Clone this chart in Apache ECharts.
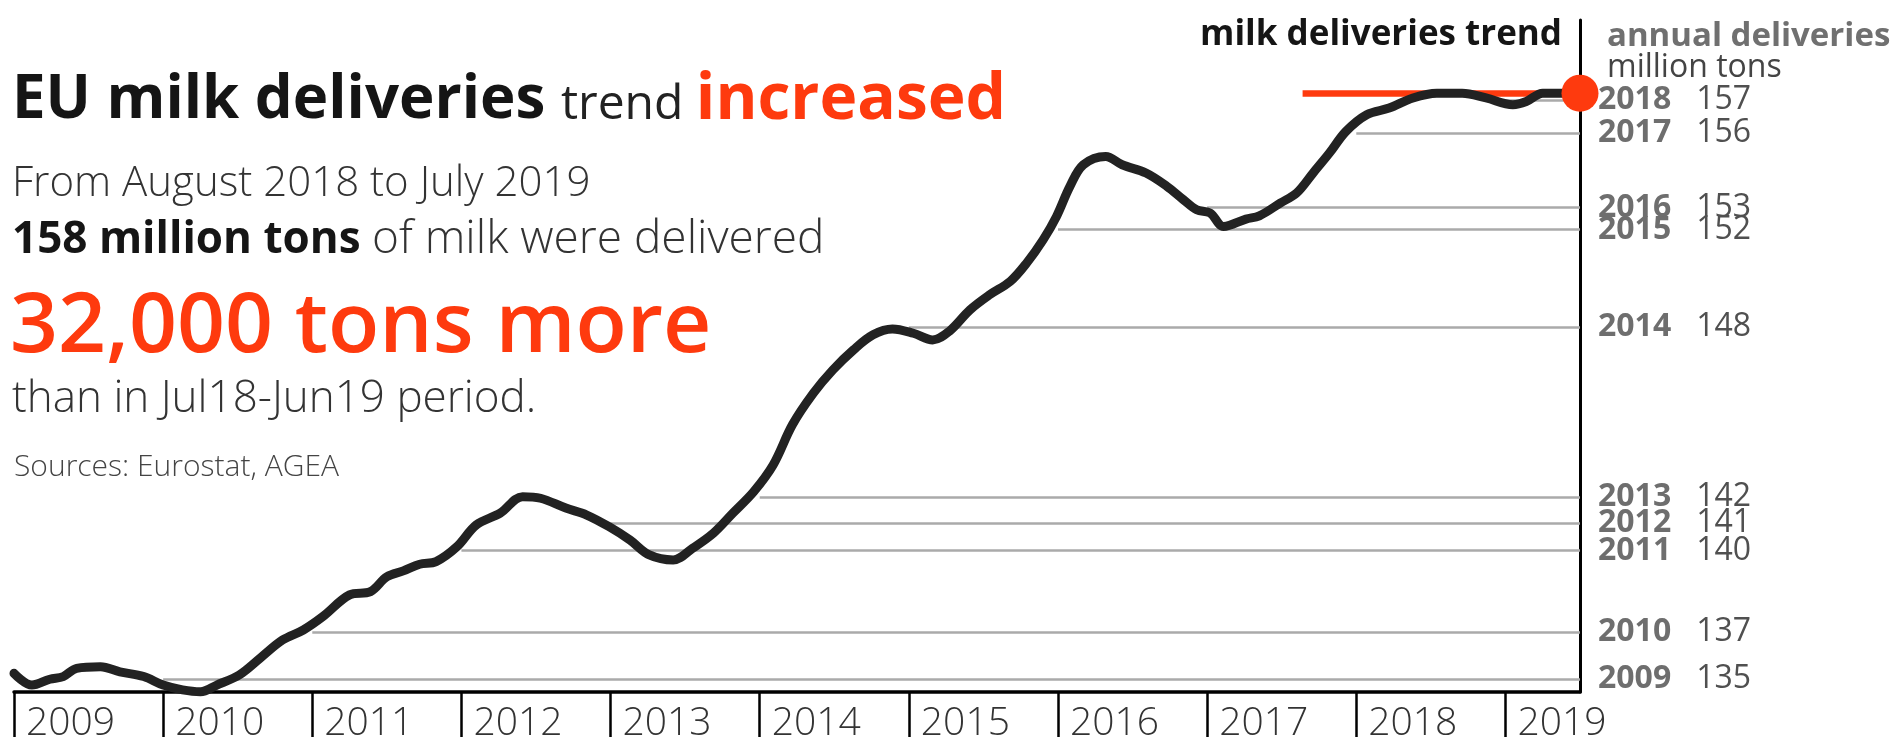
<!DOCTYPE html>
<html>
<head>
<meta charset="utf-8">
<script src="https://cdn.jsdelivr.net/npm/echarts@6/dist/echarts.min.js"></script>
<style>
html,body{margin:0;padding:0;background:#fff;}
#chart{width:1893px;height:737px;}
</style>
</head>
<body>
<div id="chart"></div>
<script>
// ---- data ----
const trendDates = [
  2009.00,2009.12,2009.24,2009.33,2009.42,2009.58,2009.71,2009.87,
  2010.00,2010.13,2010.25,2010.36,2010.51,2010.65,2010.80,2010.94,
  2011.07,2011.25,2011.39,2011.50,2011.61,2011.72,2011.83,2011.97,
  2012.10,2012.26,2012.41,2012.53,2012.70,2012.84,2012.99,
  2013.13,2013.26,2013.42,2013.55,2013.69,2013.82,2013.96,
  2014.09,2014.22,2014.36,2014.49,2014.63,2014.76,2014.89,
  2015.03,2015.16,2015.27,2015.41,2015.54,2015.68,2015.79,2015.90,2015.99,
  2016.08,2016.17,2016.32,2016.43,2016.59,2016.73,2016.84,2016.93,
  2017.02,2017.11,2017.26,2017.35,2017.49,2017.60,2017.71,2017.82,2017.93,
  2018.07,2018.22,2018.38,2018.54,2018.71,2018.87,
  2019.05,2019.14,2019.25,2019.34,2019.50
];
const trendValues = [
  135.2,134.76,134.98,135.08,135.39,135.45,135.26,135.08,
  134.76,134.58,134.51,134.76,135.14,135.77,136.45,136.83,
  137.33,138.15,138.27,138.83,139.05,139.3,139.4,139.96,
  140.78,141.22,141.84,141.78,141.41,141.15,140.71,
  140.21,139.65,139.46,139.9,140.47,141.22,142.03,
  143.03,144.55,145.73,146.6,147.36,147.92,148.14,
  147.98,147.73,148.05,148.86,149.42,149.93,150.62,151.49,152.37,
  153.5,154.31,154.62,154.31,154.0,153.5,153.0,152.62,
  152.5,151.99,152.27,152.39,152.87,153.25,154.0,154.75,155.56,
  156.19,156.44,156.82,157.0,157.0,156.82,
  156.57,156.69,157.0,157.0,157.0
];
const annualYears  = [2009, 2010, 2011, 2012, 2013, 2014, 2015, 2016, 2017, 2018];
const annualValues = [134.99, 136.74, 139.81, 140.84, 141.82, 148.2, 151.87, 152.7, 155.51, 156.75];
const xTickYears   = [2009, 2010, 2011, 2012, 2013, 2014, 2015, 2016, 2017, 2018, 2019];
const trendStart = 2017.64;
const trendLevel = 157.0;
const xMin = 2009, xMax = 2019.5;
const yMin = 134.5, yMax = 159.75;

const RED = '#fe3a0e';
const FONT = "'Open Sans', 'Noto Sans', sans-serif";

const pairs = trendDates.map((d, i) => [d, trendValues[i]]);

const gridLines = annualYears.map((y, i) => [
  { coord: [y + 1, annualValues[i]],
    label: { formatter: '{y|' + y + '}{v|' + Math.round(annualValues[i]) + '}' } },
  { coord: [xMax, annualValues[i]] }
]);

const chart = echarts.init(document.getElementById('chart'), null, { renderer: 'canvas' });

chart.setOption({
  animation: false,
  backgroundColor: '#fff',
  textStyle: { fontFamily: FONT },
  title: [
    { left: 12, top: 70, padding: 0,
      text: '{b|EU milk deliveries }{n|trend }{r|increased}',
      textStyle: { rich: {
        b: { fontFamily: FONT, fontSize: 60, fontWeight: 'bold', color: '#151515', lineHeight: 62 },
        n: { fontFamily: FONT, fontSize: 48, fontWeight: 'normal', color: '#222', lineHeight: 62, padding: [9, 0, 0, 0] },
        r: { fontFamily: FONT, fontSize: 64, fontWeight: 'bold', color: RED, lineHeight: 62 }
      } } },
    { left: 12, top: 163, padding: 0,
      text: '{l|From August 2018 to July 2019}',
      textStyle: { rich: { l: { fontFamily: FONT, fontSize: 42, fontWeight: 300, color: '#333', lineHeight: 42 } } } },
    { left: 12, top: 217, padding: 0,
      text: '{b|158 million tons }{l|of milk were delivered}',
      textStyle: { rich: {
        b: { fontFamily: FONT, fontSize: 44, fontWeight: 'bold', color: '#151515', lineHeight: 46 },
        l: { fontFamily: FONT, fontSize: 46, fontWeight: 300, color: '#333', lineHeight: 46 }
      } } },
    { left: 10, top: 286, padding: 0,
      text: '{r|32,000 tons more}',
      textStyle: { rich: { r: { fontFamily: FONT, fontSize: 84, fontWeight: 600, color: RED, lineHeight: 84 } } } },
    { left: 12, top: 377, padding: 0,
      text: '{l|than in Jul18-Jun19 period.}',
      textStyle: { rich: { l: { fontFamily: FONT, fontSize: 44, fontWeight: 300, color: '#333', lineHeight: 44 } } } },
    { left: 14, top: 452, padding: 0,
      text: '{s|Sources: Eurostat, AGEA}',
      textStyle: { rich: { s: { fontFamily: FONT, fontSize: 30, fontWeight: 300, color: '#444', lineHeight: 30 } } } },
    { right: 331, top: 18, padding: 0,
      text: '{b|milk deliveries trend}',
      textStyle: { rich: { b: { fontFamily: FONT, fontSize: 35, fontWeight: 'bold', color: '#151515', lineHeight: 35 } } } },
    { left: 1607, top: 20, padding: 0,
      text: '{b|annual deliveries}',
      textStyle: { rich: { b: { fontFamily: FONT, fontSize: 33, fontWeight: 'bold', color: '#707070', lineHeight: 33 } } } },
    { left: 1607, top: 52, padding: 0,
      text: '{n|million tons}',
      textStyle: { rich: { n: { fontFamily: FONT, fontSize: 32, fontWeight: 'normal', color: '#444', lineHeight: 32 } } } }
  ],
  grid: { left: 14, right: 313, top: 20, bottom: 45, containLabel: false, outerBoundsMode: 'none' },
  xAxis: {
    type: 'value', min: xMin, max: xMax, interval: 1,
    axisLine: { show: true, onZero: false, lineStyle: { color: '#000', width: 3.5 } },
    axisTick: { show: true, inside: false, length: 50, lineStyle: { color: '#000', width: 2.5 } },
    splitLine: { show: false },
    axisLabel: {
      show: true, margin: 12, align: 'left', padding: [0, 0, 0, 12],
      fontFamily: FONT, fontSize: 39, fontWeight: 300, color: '#333',
      showMinLabel: true, showMaxLabel: false, hideOverlap: false,
      formatter: v => xTickYears.indexOf(v) >= 0 ? String(v) : ''
    }
  },
  yAxis: {
    type: 'value', min: yMin, max: yMax, position: 'right',
    axisLine: { show: true, lineStyle: { color: '#000', width: 3 } },
    axisTick: { show: false }, axisLabel: { show: false }, splitLine: { show: false }
  },
  series: [
    {
      name: 'annual', type: 'line', data: [], z: 1,
      markLine: {
        silent: true, symbol: 'none', z: 1,
        lineStyle: { color: '#aaaaaa', width: 2.5, type: 'solid' },
        label: {
          show: true, position: 'end', distance: 18,
          rich: {
            y: { fontFamily: FONT, fontSize: 32, fontWeight: 'bold', color: '#6e6e6e' },
            v: { fontFamily: FONT, fontSize: 32, fontWeight: 'normal', color: '#505050', padding: [0, 0, 0, 25] }
          }
        },
        data: gridLines
      }
    },
    {
      name: 'trend level', type: 'line', data: [], z: 2,
      markLine: {
        silent: true, symbol: 'none', z: 2,
        lineStyle: { color: RED, width: 6.5, type: 'solid' },
        label: { show: false },
        data: [[{ coord: [trendStart, trendLevel] }, { coord: [xMax, trendLevel] }]]
      }
    },
    {
      name: 'milk deliveries trend', type: 'line', data: pairs, z: 3,
      smooth: 0.35, symbol: 'none', clip: false,
      lineStyle: { color: '#222', width: 9, cap: 'round', join: 'round' }
    },
    {
      name: 'latest', type: 'scatter', z: 4,
      data: [[xMax, trendLevel]],
      symbol: 'circle', symbolSize: 37,
      itemStyle: { color: RED, opacity: 1 }
    }
  ]
});
</script>
</body>
</html>
